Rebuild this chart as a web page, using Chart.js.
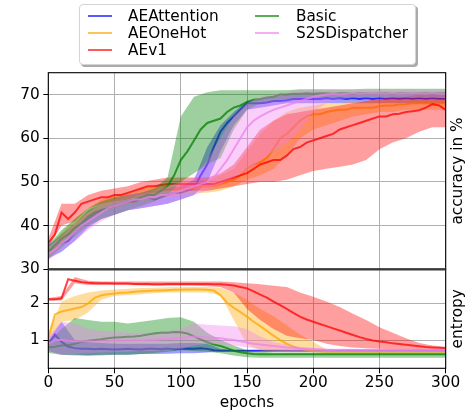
<!DOCTYPE html>
<html><head><meta charset="utf-8">
<script src="https://cdn.jsdelivr.net/npm/chart.js@4.4.1/dist/chart.umd.min.js"></script>
<style>
html,body{margin:0;padding:0;background:#fff;}
#wrap{position:relative;width:468px;height:417px;overflow:hidden;}
#c{position:absolute;left:0;top:0;}
#legend{position:absolute;left:79px;top:4px;width:337px;height:61px;border:1px solid #d4d4d4;border-radius:4px;background:#fff;box-shadow:2px 2px 0 #aaaaaa;box-sizing:border-box;}
.it{position:absolute;height:17px;line-height:17px;white-space:nowrap;font-family:"DejaVu Sans";font-size:15.3px;color:#000;}
.it .h{position:absolute;left:0;top:7.5px;width:24px;height:2.2px;}
.it .t{position:absolute;top:0;}
</style></head>
<body>
<div id="wrap">
<canvas id="c" width="468" height="417"></canvas>
<div id="legend"></div>
</div>
<script>
// ---------------- data ----------------
const SERIES_NAMES = ["AEAttention", "AEOneHot", "AEv1", "Basic", "S2SDispatcher"];
const SERIES_COLORS = [[0,0,255],[255,165,0],[255,0,0],[0,128,0],[238,130,238]];

const EPOCHS5 = [0,5,10,15,20,25,30,35,40,45,50,55,60,65,70,75,80,85,90,95,100,105,110,115,120,125,130,135,140,145,150,155,160,165,170,175,180,185,190,195,200,205,210,215,220,225,230,235,240,245,250,255,260,265,270,275,280,285,290,295,300];
const EPOCHS10 = [0,10,20,30,40,50,60,70,80,90,100,110,120,130,140,150,160,170,180,190,200,210,220,230,240,250,260,270,280,290,300];

const X_TICKS = [0,50,100,150,200,250,300];
const ACC_TICKS = [30,40,50,60,70];
const ENT_TICKS = [1,2];

// accuracy means (every 5 epochs)
const ACC_AEATTENTION = [34,35,36,36.5,38.5,40,41.5,42.5,43.5,44,44.5,45,45.5,45.5,46,46.5,46,46.5,47,47.5,47.5,48,48.5,51.5,54,58,61.5,63.5,65,66.5,68,68,68,68.2,68.5,68.5,68.7,69,69,69,69,69,69.2,69,69.2,69,69.2,69,69.2,69,69.2,69,69.2,69,69.2,69,69.2,69,69.2,69,69];
const ACC_AEONEHOT = [34,35,37,38.5,40,41.5,42.5,43.5,44.5,45,45.5,46,46.5,46.5,47,47.5,47.5,48,48,48,48.5,48.5,48.5,49,49,49,49.5,50,50.5,51.5,53,54,54.5,55.5,57.5,60,61,62.5,64,65,65.5,65.5,66,66.3,66.5,66.5,67,67,67,67,67.3,67.5,67.5,67.7,67.8,68,68,68,68,68,68];
const ACC_AEV1 = [36,38,43,41.5,43,45,45.5,46,46.5,46.5,47,47,47.5,48,48.5,49,49,49.3,49.5,49.5,49.5,49.5,49.5,49.5,49.5,49.5,50,50.5,51,51.5,52,53,54,54.5,55,55,56,57.5,58,59,59.5,60,60.5,61,62,62.5,63,63.5,64,64.5,65,65,65.5,65.6,66,66.2,66.4,67,67.8,67.5,66.5];
const ACC_BASIC = [34,35.5,37,38,39.5,40.5,42,43,43.5,44,44.5,45,45.5,46,46.5,47,47,48,49,51.5,55,57,59.5,62,63.5,64,64.5,66,67,67.5,68.3,68.8,69,69.3,69.5,70,70,70.2,70.2,70.3,70.2,70.3,70.3,70.2,70.3,70.3,70.2,70.3,70.3,70.2,70.3,70.3,70.2,70.3,70.3,70.2,70.3,70.3,70.2,70.3,70.3];
const ACC_S2S = [33.5,34.5,36,37,38.5,40,41,42,43,44,44.5,45,45.5,46,46,46.5,46.5,47,47,47.5,48,48.5,49,49.5,50,51,53,55,57.5,60,62.5,64,65,65.8,66.5,67,67.5,68,68.5,69,69.5,69.8,70,70.2,70,70.2,70.3,70.2,70.3,70.2,70.3,70.2,70.3,70.2,70.3,70.2,70.3,70.2,70.3,70.2,70.2];

// accuracy min / max bands (every 10 epochs)
const ACC_AEATTENTION_LO = [32.5,34,36.5,39.5,41.5,42.5,43.5,44,44.5,45,46,47,50,57,63,66.5,67,67.5,68,68,68,68,68,68,68,68,68,68,68,68,68];
const ACC_AEATTENTION_HI = [35.5,38,40.5,43.5,45,46,47,47.5,48,48.5,49,50.5,58,63,66,68.5,69,69.5,70,70,70,70,70,70,70,70,70,70,70,70,70];
const ACC_AEONEHOT_LO = [33,35.5,38.5,41,43,44,45,45.5,46,46.5,47,47.5,47.5,48,49,50.5,51.5,53,56,60,62,63,64,65,65.5,66,66,66.5,66.5,66.5,66.5];
const ACC_AEONEHOT_HI = [35,38.5,41.5,44,46,47,47.5,48.5,49,49.5,50,50,50.5,51.5,53,57,61,64,66,67,67.5,68,68,68.5,68.5,69,69,69,69,69,69];
const ACC_AEV1_LO = [35,40,41,44,45,45.5,46,47,47.5,48,48,48,48,48.5,49,49.5,50,50,50.5,51.5,52.5,53,53.5,54,55,57.5,59,60,61.5,62.5,62.5];
const ACC_AEV1_HI = [37,45,45,47,48,48.5,49,50,50.5,51,51,51,51,52,54,58,62,64,65.5,66,66.5,67,67.5,68,68.5,69,69.5,69.5,70,70.5,70];
const ACC_BASIC_LO = [32.5,35,37.5,40,41.5,42.5,43.5,44.5,45.5,47,50,52,54,55.5,62,66.5,68,68.5,69,69.2,69.2,69.2,69.2,69.2,69.2,69.2,69.2,69.2,69.2,69.2,69.2];
const ACC_BASIC_HI = [35.5,39,41.5,44,45.5,46.5,47,47.5,48.5,51,65,69.5,70.5,71,71,71,71,71,71,71.2,71.2,71.2,71.2,71.2,71.3,71.3,71.3,71.3,71.3,71.3,71.3];
const ACC_S2S_LO = [32,34.5,36.5,39,41,42.5,43.5,44,44.5,45,46,47,48,49.5,51,52.5,55,57,59,62,66,68,69,69.2,69.2,69.2,69.2,69.2,69.2,69.2,69.2];
const ACC_S2S_HI = [35,37.5,40.5,43,45,46,47,47.5,48,49,50,51,55,60,65,68,69.5,70,70.5,71,71,71,71,71,71,71,71,71,71,71,71];

// entropy means (every 5 epochs)
const ENT_AEATTENTION = [0.9,1.15,0.95,0.82,0.78,0.76,0.76,0.75,0.76,0.75,0.74,0.75,0.76,0.75,0.74,0.76,0.76,0.75,0.77,0.75,0.76,0.77,0.76,0.78,0.76,0.72,0.71,0.71,0.71,0.71,0.71,0.71,0.71,0.71,0.71,0.71,0.71,0.71,0.71,0.71,0.71,0.71,0.71,0.71,0.71,0.71,0.71,0.71,0.71,0.71,0.71,0.71,0.71,0.71,0.71,0.71,0.71,0.71,0.71,0.71,0.71];
const ENT_AEONEHOT = [1.05,1.7,1.78,1.82,1.86,1.9,2.0,2.15,2.22,2.25,2.27,2.29,2.3,2.32,2.33,2.34,2.35,2.35,2.36,2.37,2.37,2.38,2.38,2.38,2.37,2.35,2.22,2.02,1.88,1.76,1.64,1.5,1.38,1.25,1.12,1.0,0.9,0.82,0.76,0.73,0.7,0.69,0.68,0.68,0.68,0.68,0.68,0.68,0.68,0.68,0.68,0.68,0.68,0.68,0.68,0.68,0.68,0.68,0.68,0.68,0.68];
const ENT_AEV1 = [2.11,2.11,2.14,2.66,2.62,2.58,2.56,2.55,2.55,2.55,2.54,2.54,2.54,2.53,2.53,2.53,2.52,2.52,2.53,2.53,2.53,2.53,2.53,2.53,2.53,2.52,2.52,2.51,2.49,2.45,2.41,2.33,2.24,2.16,2.05,1.95,1.85,1.74,1.64,1.56,1.5,1.44,1.38,1.32,1.26,1.2,1.14,1.08,1.03,0.99,0.96,0.94,0.91,0.89,0.87,0.85,0.83,0.81,0.8,0.79,0.78];
const ENT_BASIC = [0.8,0.82,0.85,0.86,0.9,0.95,0.98,1.0,1.02,1.05,1.07,1.08,1.09,1.1,1.12,1.15,1.18,1.2,1.2,1.22,1.21,1.18,1.1,1.02,0.94,0.88,0.84,0.78,0.71,0.67,0.64,0.62,0.61,0.61,0.61,0.61,0.61,0.61,0.61,0.61,0.61,0.61,0.61,0.61,0.61,0.61,0.61,0.61,0.61,0.61,0.61,0.61,0.61,0.61,0.61,0.61,0.61,0.61,0.61,0.61,0.61];
const ENT_S2S = [0.9,1.0,1.0,0.98,0.97,0.97,0.97,0.96,0.97,0.97,0.98,0.98,0.99,1.0,1.0,1.0,1.01,1.02,1.03,1.04,1.05,1.08,1.1,1.08,1.07,1.06,1.05,1.02,1.0,0.97,0.93,0.9,0.88,0.86,0.84,0.82,0.8,0.79,0.77,0.76,0.75,0.74,0.73,0.73,0.73,0.73,0.73,0.73,0.73,0.73,0.73,0.73,0.73,0.73,0.73,0.73,0.73,0.73,0.73,0.73,0.73];

// entropy min / max bands (every 10 epochs)
const ENT_AEATTENTION_LO = [0.7,0.6,0.6,0.58,0.6,0.6,0.6,0.62,0.62,0.63,0.64,0.64,0.66,0.69,0.7,0.7,0.7,0.7,0.7,0.7,0.7,0.7,0.7,0.7,0.7,0.7,0.7,0.7,0.7,0.7,0.7];
const ENT_AEATTENTION_HI = [1.0,1.5,1.0,0.95,0.92,0.9,0.9,0.9,0.9,0.9,0.92,0.92,0.9,0.76,0.73,0.73,0.73,0.73,0.73,0.73,0.73,0.73,0.73,0.73,0.73,0.73,0.73,0.73,0.73,0.73,0.73];
const ENT_AEONEHOT_LO = [0.95,1.5,1.55,1.75,2.1,2.2,2.23,2.25,2.28,2.3,2.3,2.3,2.3,2.22,1.55,0.88,0.72,0.68,0.67,0.67,0.67,0.67,0.67,0.67,0.67,0.67,0.67,0.67,0.67,0.67,0.67];
const ENT_AEONEHOT_HI = [1.2,2.05,2.2,2.3,2.35,2.38,2.4,2.42,2.43,2.44,2.45,2.45,2.45,2.43,2.3,2.1,1.85,1.65,1.4,1.15,0.95,0.75,0.7,0.69,0.69,0.69,0.69,0.69,0.69,0.69,0.69];
const ENT_AEV1_LO = [2.07,2.08,2.55,2.5,2.5,2.5,2.5,2.49,2.48,2.48,2.48,2.48,2.47,2.45,2.3,1.85,1.55,1.3,1.12,1.05,1.0,0.9,0.84,0.8,0.78,0.76,0.75,0.74,0.73,0.72,0.72];
const ENT_AEV1_HI = [2.15,2.2,2.72,2.62,2.6,2.6,2.6,2.6,2.6,2.6,2.6,2.6,2.6,2.6,2.58,2.55,2.52,2.48,2.45,2.3,2.18,2.05,1.9,1.72,1.55,1.35,1.2,1.05,0.92,0.85,0.82];
const ENT_BASIC_LO = [0.65,0.6,0.58,0.58,0.58,0.6,0.6,0.62,0.65,0.68,0.72,0.7,0.68,0.64,0.58,0.53,0.52,0.52,0.52,0.52,0.52,0.52,0.52,0.52,0.52,0.52,0.52,0.52,0.52,0.52,0.52];
const ENT_BASIC_HI = [0.95,1.3,1.6,1.55,1.5,1.5,1.45,1.5,1.55,1.6,1.62,1.5,1.2,1.0,0.85,0.72,0.68,0.66,0.66,0.66,0.66,0.66,0.66,0.66,0.66,0.66,0.66,0.66,0.66,0.66,0.66];
const ENT_S2S_LO = [0.7,0.6,0.62,0.65,0.66,0.67,0.68,0.7,0.7,0.72,0.75,0.85,0.9,0.88,0.85,0.8,0.75,0.72,0.71,0.7,0.69,0.69,0.69,0.69,0.69,0.69,0.69,0.69,0.69,0.69,0.69];
const ENT_S2S_HI = [1.1,1.5,1.45,1.3,1.25,1.25,1.2,1.2,1.2,1.25,1.3,1.45,1.42,1.4,1.38,1.3,1.1,0.95,0.88,0.82,0.79,0.77,0.76,0.76,0.76,0.76,0.76,0.76,0.76,0.76,0.76];

const ACC_MEANS = [ACC_AEATTENTION, ACC_AEONEHOT, ACC_AEV1, ACC_BASIC, ACC_S2S];
const ACC_LOS = [ACC_AEATTENTION_LO, ACC_AEONEHOT_LO, ACC_AEV1_LO, ACC_BASIC_LO, ACC_S2S_LO];
const ACC_HIS = [ACC_AEATTENTION_HI, ACC_AEONEHOT_HI, ACC_AEV1_HI, ACC_BASIC_HI, ACC_S2S_HI];
const ENT_MEANS = [ENT_AEATTENTION, ENT_AEONEHOT, ENT_AEV1, ENT_BASIC, ENT_S2S];
const ENT_LOS = [ENT_AEATTENTION_LO, ENT_AEONEHOT_LO, ENT_AEV1_LO, ENT_BASIC_LO, ENT_S2S_LO];
const ENT_HIS = [ENT_AEATTENTION_HI, ENT_AEONEHOT_HI, ENT_AEV1_HI, ENT_BASIC_HI, ENT_S2S_HI];

// ---------------- build ----------------
const FONT = '"DejaVu Sans"';
const rgba = (c, a) => `rgba(${c[0]},${c[1]},${c[2]},${a})`;
const pts = (xs, ys) => xs.map((x, i) => ({x: x, y: ys[i]}));

const datasets = [];
SERIES_NAMES.forEach((name, s) => {
  const c = SERIES_COLORS[s];
  [['yAcc', ACC_LOS[s], ACC_HIS[s], ACC_MEANS[s]], ['yEnt', ENT_LOS[s], ENT_HIS[s], ENT_MEANS[s]]].forEach(p => {
    datasets.push({label: name + ' lo', data: pts(EPOCHS10, p[1]), yAxisID: p[0], borderWidth: 0, pointRadius: 0, fill: false, borderColor: 'rgba(0,0,0,0)'});
    datasets.push({label: name + ' hi', data: pts(EPOCHS10, p[2]), yAxisID: p[0], borderWidth: 0, pointRadius: 0, fill: '-1', borderColor: 'rgba(0,0,0,0)', backgroundColor: rgba(c, 0.38)});
    datasets.push({label: name, data: pts(EPOCHS5, p[3]), yAxisID: p[0], borderWidth: 2, pointRadius: 0, fill: false, borderColor: rgba(c, 0.75)});
  });
});
datasets.forEach((d, i) => { d.order = -i; d.tension = 0; });

const tickFont = {family: FONT, size: 15.3};
const gridOpts = {color: '#b0b0b0', lineWidth: 1, tickColor: '#000', tickLength: 5, tickWidth: 1, drawTicks: true};

const frame = {
  id: 'frame',
  afterDraw(chart) {
    const ctx = chart.ctx, a = chart.chartArea, yt = chart.scales.yAcc, yb = chart.scales.yEnt;
    ctx.save();
    ctx.strokeStyle = '#000';
    ctx.lineWidth = 1.1;
    ctx.strokeRect(a.left, yt.top, a.right - a.left, yt.bottom - yt.top);
    ctx.strokeRect(a.left, yb.top, a.right - a.left, yb.bottom - yb.top);
    ctx.strokeStyle = '#3a3a3a';
    ctx.lineWidth = 2.2;
    const yb0 = Math.min(yt.bottom, yb.bottom) === yt.bottom ? yt.bottom : yb.bottom;
    ctx.beginPath(); ctx.moveTo(a.left, yb0); ctx.lineTo(a.right, yb0); ctx.stroke();
    ctx.fillStyle = '#000';
    ctx.font = '15.3px ' + FONT;
    ctx.textAlign = 'center';
    ctx.textBaseline = 'middle';
    ctx.fillText('epochs', (a.left + a.right) / 2, 403);
    ctx.save();
    ctx.translate(458.5, (yt.top + yt.bottom) / 2);
    ctx.rotate(-Math.PI / 2);
    ctx.fillText('accuracy in %', 0, 0);
    ctx.restore();
    ctx.save();
    ctx.translate(458.5, (yb.top + yb.bottom) / 2);
    ctx.rotate(-Math.PI / 2);
    ctx.fillText('entropy', 0, 0);
    ctx.restore();
    ctx.restore();
  }
};

new Chart(document.getElementById('c'), {
  type: 'line',
  data: {datasets: datasets},
  plugins: [frame],
  options: {
    responsive: false,
    animation: false,
    events: [],
    layout: {padding: {top: 72.7, right: 22.3, left: 0, bottom: 0}},
    plugins: {legend: {display: false}, tooltip: {enabled: false}, filler: {propagate: false}},
    scales: {
      x: {
        type: 'linear', min: 0, max: 300,
        afterBuildTicks: s => { s.ticks = X_TICKS.map(v => ({value: v})); },
        afterFit: s => { s.height = 48.7; },
        grid: gridOpts, border: {display: false},
        ticks: {color: '#000', font: tickFont, padding: 1, maxRotation: 0, autoSkip: false}
      },
      yEnt: {
        type: 'linear', position: 'left', stack: 'plots', stackWeight: 99, min: 0.23, max: 2.93,
        afterBuildTicks: s => { s.ticks = ENT_TICKS.map(v => ({value: v})); },
        afterFit: s => { s.width = 48.3; },
        grid: gridOpts, border: {display: false},
        ticks: {color: '#000', font: tickFont, padding: 3.5}
      },
      yAcc: {
        type: 'linear', position: 'left', stack: 'plots', stackWeight: 196.6, min: 30, max: 75,
        afterBuildTicks: s => { s.ticks = ACC_TICKS.map(v => ({value: v})); },
        afterFit: s => { s.width = 48.3; },
        grid: gridOpts, border: {display: false},
        ticks: {color: '#000', font: tickFont, padding: 3.5}
      }
    }
  }
});

// ---------------- legend (HTML) ----------------
const LEG_POS = [[88,16],[88,33.3],[88,50],[255,16],[255,33.3]];
const leg = document.getElementById('wrap');
SERIES_NAMES.forEach((name, s) => {
  const it = document.createElement('div');
  it.className = 'it';
  it.style.left = LEG_POS[s][0] + 'px';
  it.style.top = (LEG_POS[s][1] - 8.5) + 'px';
  const h = document.createElement('div');
  h.className = 'h';
  h.style.background = rgba(SERIES_COLORS[s], 0.65);
  const t = document.createElement('span');
  t.className = 't';
  t.style.left = (s < 3 ? 40 : 41) + 'px';
  t.textContent = name;
  it.appendChild(h); it.appendChild(t);
  leg.appendChild(it);
});
</script>
</body></html>
